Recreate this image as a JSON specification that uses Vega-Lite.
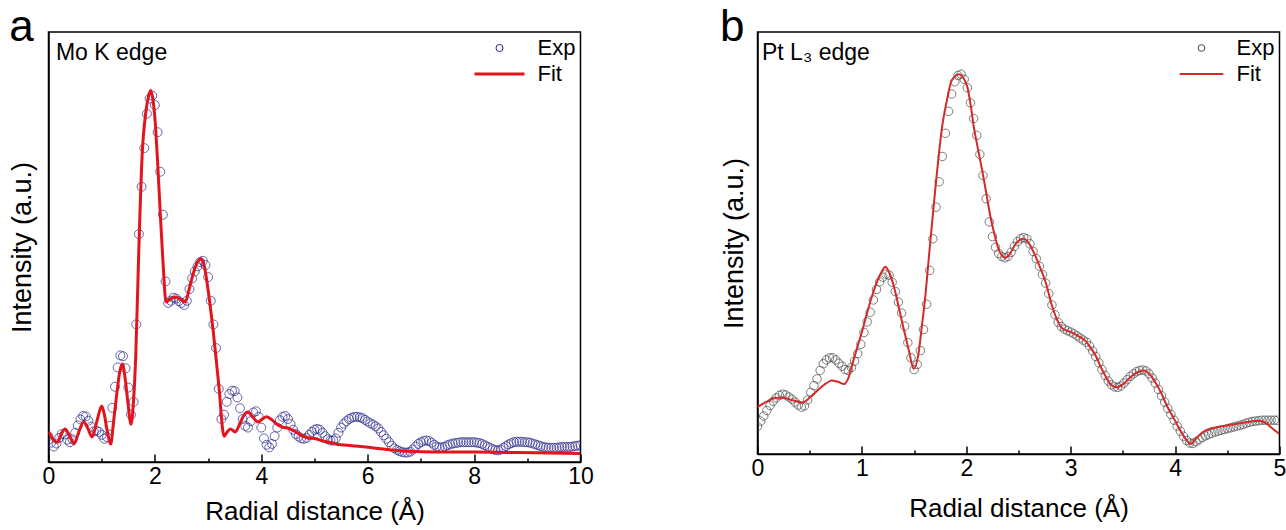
{
  "$schema": "https://vega.github.io/schema/vega-lite/v6.json",
  "padding": {"left": 7.5, "top": 5, "right": 0, "bottom": 0},
  "background": "white",
  "spacing": 124,
  "config": {
    "font": "Liberation Sans",
    "view": {"stroke": "black", "strokeWidth": 1.5},
    "axis": {"domainColor": "black", "domainWidth": 1.5, "tickColor": "black", "tickWidth": 1.5, "labelColor": "black", "titleColor": "black", "labelFont": "Liberation Sans", "titleFont": "Liberation Sans", "titleFontWeight": "normal", "grid": false, "labelFlush": false, "labelOverlap": false},
    "legend": {"labelFont": "Liberation Sans", "labelColor": "black"}
  },
  "resolve": {"scale": {"x": "independent", "y": "independent", "color": "independent"}, "legend": {"color": "independent"}},
  "hconcat": [
    {
      "width": 532,
      "height": 430,
      "encoding": {
        "x": {"field": "x", "type": "quantitative", "scale": {"domain": [0, 10], "nice": false, "zero": false},
          "axis": {"title": "Radial distance (Å)", "values": [0,1,2,3,4,5,6,7,8,9,10], "labelExpr": "datum.value % 2 === 0 ? '' + datum.value : ''",
            "tickSize": {"condition": {"test": "datum.value % 2 === 0", "value": -8}, "value": -4},
            "labelFontSize": 23, "labelPadding": 11, "titleFontSize": 26, "titlePadding": 6}},
        "y": {"field": "v", "type": "quantitative", "scale": {"domain": [0, 100], "nice": false},
          "axis": {"title": "Intensity (a.u.)", "labels": false, "ticks": false, "titleFontSize": 27, "titlePadding": 12}}
      },
      "layer": [
        {
          "data": {"values": [
{"x":0,"v":6.0},{"x":0.05,"v":4.5},{"x":0.1,"v":3.6},{"x":0.15,"v":4.3},{"x":0.2,"v":5.6},{"x":0.25,"v":6.5},{"x":0.3,"v":6.4},{"x":0.35,"v":5.2},{"x":0.4,"v":4.6},{"x":0.45,"v":5.3},
{"x":0.5,"v":6.8},{"x":0.55,"v":8.5},{"x":0.6,"v":9.9},{"x":0.65,"v":10.7},{"x":0.7,"v":10.6},{"x":0.75,"v":9.6},{"x":0.8,"v":8.2},{"x":0.85,"v":7.1},{"x":0.9,"v":7.3},{"x":0.95,"v":7.0},
{"x":1.0,"v":6.3},{"x":1.05,"v":5.4},{"x":1.1,"v":5.8},{"x":1.15,"v":8.4},{"x":1.2,"v":12.6},{"x":1.25,"v":17.5},{"x":1.3,"v":22.0},{"x":1.35,"v":24.8},{"x":1.4,"v":24.6},{"x":1.45,"v":21.8},
{"x":1.5,"v":17.3},{"x":1.55,"v":11.0},{"x":1.6,"v":14.0},{"x":1.65,"v":32.0},{"x":1.7,"v":53.0},{"x":1.75,"v":64.0},{"x":1.8,"v":73.0},{"x":1.85,"v":81.0},{"x":1.9,"v":84.5},{"x":1.95,"v":85.2},
{"x":2.0,"v":83.0},{"x":2.05,"v":76.7},{"x":2.1,"v":67.5},{"x":2.15,"v":57.5},{"x":2.2,"v":42.0},{"x":2.25,"v":37.0},{"x":2.3,"v":37.5},{"x":2.35,"v":38.2},{"x":2.4,"v":38.0},{"x":2.45,"v":37.4},
{"x":2.5,"v":37.0},{"x":2.55,"v":36.5},{"x":2.6,"v":37.5},{"x":2.65,"v":40.2},{"x":2.7,"v":42.7},{"x":2.75,"v":44.3},{"x":2.8,"v":45.5},{"x":2.85,"v":46.5},{"x":2.9,"v":46.8},{"x":2.95,"v":45.8},
{"x":3.0,"v":43.0},{"x":3.05,"v":37.5},{"x":3.1,"v":32.0},{"x":3.15,"v":26.5},{"x":3.2,"v":17.0},{"x":3.25,"v":10.0},{"x":3.3,"v":11.0},{"x":3.35,"v":14.0},{"x":3.4,"v":15.8},{"x":3.45,"v":16.6},
{"x":3.5,"v":16.5},{"x":3.55,"v":15.0},{"x":3.6,"v":12.5},{"x":3.65,"v":10.0},{"x":3.7,"v":8.4},{"x":3.75,"v":8.0},{"x":3.8,"v":9.5},{"x":3.85,"v":11.5},{"x":3.9,"v":11.8},{"x":3.95,"v":10.5},
{"x":4.0,"v":8.0},{"x":4.05,"v":5.5},{"x":4.1,"v":4.0},{"x":4.15,"v":3.4},{"x":4.2,"v":4.2},{"x":4.25,"v":6.0},{"x":4.3,"v":8.0},{"x":4.35,"v":9.7},{"x":4.4,"v":10.5},{"x":4.45,"v":10.7},
{"x":4.5,"v":10.0},{"x":4.55,"v":8.8},{"x":4.6,"v":7.5},{"x":4.65,"v":6.5},{"x":4.7,"v":5.9},{"x":4.75,"v":5.5},{"x":4.8,"v":5.4},{"x":4.85,"v":5.6},{"x":4.9,"v":6.3},{"x":4.95,"v":7.0},
{"x":5.0,"v":7.5},{"x":5.05,"v":7.7},{"x":5.1,"v":7.5},{"x":5.15,"v":6.8},{"x":5.2,"v":6.0},{"x":5.25,"v":5.3},{"x":5.3,"v":5.0},{"x":5.35,"v":5.0},{"x":5.4,"v":5.5},{"x":5.45,"v":6.8},
{"x":5.5,"v":8.0},{"x":5.55,"v":8.9},{"x":5.6,"v":9.5},{"x":5.65,"v":10.0},{"x":5.7,"v":10.3},{"x":5.75,"v":10.5},{"x":5.8,"v":10.5},{"x":5.85,"v":10.4},{"x":5.9,"v":10.2},{"x":5.95,"v":9.8},
{"x":6.0,"v":9.4},{"x":6.05,"v":9.0},{"x":6.1,"v":8.7},{"x":6.15,"v":8.3},{"x":6.2,"v":7.8},{"x":6.25,"v":7.0},{"x":6.3,"v":6.2},{"x":6.35,"v":5.4},{"x":6.4,"v":4.6},{"x":6.45,"v":3.8},
{"x":6.5,"v":3.2},{"x":6.55,"v":2.8},{"x":6.6,"v":2.5},{"x":6.65,"v":2.3},{"x":6.7,"v":2.2},{"x":6.75,"v":2.2},{"x":6.8,"v":2.4},{"x":6.85,"v":2.9},{"x":6.9,"v":3.6},{"x":6.95,"v":4.2},
{"x":7.0,"v":4.6},{"x":7.05,"v":4.9},{"x":7.1,"v":5.0},{"x":7.15,"v":4.9},{"x":7.2,"v":4.5},{"x":7.25,"v":4.0},{"x":7.3,"v":3.6},{"x":7.35,"v":3.4},{"x":7.4,"v":3.4},{"x":7.45,"v":3.6},
{"x":7.5,"v":3.9},{"x":7.55,"v":4.1},{"x":7.6,"v":4.3},{"x":7.65,"v":4.4},{"x":7.7,"v":4.5},{"x":7.75,"v":4.6},{"x":7.8,"v":4.6},{"x":7.85,"v":4.6},{"x":7.9,"v":4.6},{"x":7.95,"v":4.6},
{"x":8.0,"v":4.6},{"x":8.05,"v":4.5},{"x":8.1,"v":4.4},{"x":8.15,"v":4.2},{"x":8.2,"v":3.9},{"x":8.25,"v":3.6},{"x":8.3,"v":3.3},{"x":8.35,"v":3.0},{"x":8.4,"v":2.8},{"x":8.45,"v":2.7},
{"x":8.5,"v":2.9},{"x":8.55,"v":3.3},{"x":8.6,"v":3.7},{"x":8.65,"v":4.1},{"x":8.7,"v":4.4},{"x":8.75,"v":4.6},{"x":8.8,"v":4.7},{"x":8.85,"v":4.7},{"x":8.9,"v":4.7},{"x":8.95,"v":4.6},
{"x":9.0,"v":4.6},{"x":9.05,"v":4.5},{"x":9.1,"v":4.3},{"x":9.15,"v":4.1},{"x":9.2,"v":3.9},{"x":9.25,"v":3.7},{"x":9.3,"v":3.5},{"x":9.35,"v":3.4},{"x":9.4,"v":3.3},{"x":9.45,"v":3.3},
{"x":9.5,"v":3.3},{"x":9.55,"v":3.3},{"x":9.6,"v":3.4},{"x":9.65,"v":3.5},{"x":9.7,"v":3.5},{"x":9.75,"v":3.5},{"x":9.8,"v":3.5},{"x":9.85,"v":3.6},{"x":9.9,"v":3.7},{"x":9.95,"v":3.8},{"x":10.0,"v":3.9}
          ]},
          "mark": {"type": "point", "shape": "circle", "filled": false, "size": 80, "strokeWidth": 1, "clip": true},
          "encoding": {"color": {"datum": "Exp", "type": "nominal", "scale": {"domain": ["Exp", "Fit"], "range": ["#26268a", "#e3141c"]},
            "legend": {"orient": "top-right", "title": null, "offset": 5, "padding": 0, "labelFontSize": 22, "labelOffset": 27, "rowPadding": 4, "symbolSize": 2500, "symbolStrokeWidth": 3,
              "encode": {"symbols": {"update": {
                "shape": {"signal": "datum.value === 'Fit' ? 'stroke' : 'circle'"},
                "size": {"signal": "datum.value === 'Fit' ? 2500 : 50"},
                "strokeWidth": {"signal": "datum.value === 'Fit' ? 3 : 1"},
                "fill": {"value": "transparent"}}}}}}}
        },
        {
          "data": {"values": [
{"x":0,"v":7.0},{"x":0.05,"v":6.0},{"x":0.1,"v":5.0},{"x":0.17,"v":4.6},{"x":0.24,"v":6.5},{"x":0.31,"v":7.7},{"x":0.4,"v":6.0},{"x":0.48,"v":4.2},{"x":0.57,"v":7.0},{"x":0.66,"v":9.3},
{"x":0.74,"v":7.8},{"x":0.82,"v":5.8},{"x":0.91,"v":9.5},{"x":1.0,"v":13.0},{"x":1.05,"v":11.0},{"x":1.1,"v":7.5},{"x":1.17,"v":4.2},{"x":1.22,"v":9.0},{"x":1.28,"v":15.5},{"x":1.34,"v":21.0},
{"x":1.39,"v":22.8},{"x":1.44,"v":19.5},{"x":1.5,"v":13.0},{"x":1.55,"v":8.8},{"x":1.6,"v":14.5},{"x":1.64,"v":24.7},{"x":1.7,"v":50.4},{"x":1.76,"v":71.3},{"x":1.83,"v":81.4},{"x":1.88,"v":85.0},
{"x":1.92,"v":86.4},{"x":1.96,"v":84.5},{"x":2.0,"v":80.0},{"x":2.05,"v":70.0},{"x":2.1,"v":58.0},{"x":2.15,"v":47.0},{"x":2.21,"v":37.2},{"x":2.3,"v":38.0},{"x":2.39,"v":38.4},{"x":2.48,"v":37.8},
{"x":2.57,"v":37.2},{"x":2.65,"v":40.5},{"x":2.72,"v":43.8},{"x":2.8,"v":46.5},{"x":2.87,"v":47.2},{"x":2.93,"v":45.5},{"x":3.0,"v":40.0},{"x":3.1,"v":30.0},{"x":3.2,"v":18.0},{"x":3.3,"v":6.0},
{"x":3.36,"v":7.0},{"x":3.42,"v":7.7},{"x":3.51,"v":7.0},{"x":3.6,"v":9.0},{"x":3.67,"v":10.8},{"x":3.75,"v":11.6},{"x":3.85,"v":10.3},{"x":3.94,"v":9.3},{"x":4.02,"v":10.0},{"x":4.1,"v":10.5},
{"x":4.2,"v":9.8},{"x":4.3,"v":8.7},{"x":4.4,"v":8.1},{"x":4.52,"v":7.8},{"x":4.65,"v":7.0},{"x":4.78,"v":6.0},{"x":4.9,"v":5.6},{"x":5.03,"v":5.4},{"x":5.15,"v":4.9},{"x":5.28,"v":4.6},
{"x":5.4,"v":4.2},{"x":5.7,"v":3.8},{"x":5.97,"v":3.5},{"x":6.3,"v":3.0},{"x":6.6,"v":2.6},{"x":7.0,"v":2.4},{"x":7.5,"v":2.3},{"x":8.0,"v":2.3},{"x":8.8,"v":2.2},{"x":9.4,"v":2.1},{"x":10.0,"v":2.0}
          ]},
          "mark": {"type": "line", "strokeWidth": 3, "interpolate": "monotone", "clip": true},
          "encoding": {"color": {"datum": "Fit", "type": "nominal",
            "legend": {"orient": "top-right", "title": null, "offset": 5, "padding": 0, "labelFontSize": 22, "labelOffset": 27, "rowPadding": 4, "symbolSize": 2500, "symbolStrokeWidth": 3,
              "encode": {"symbols": {"update": {
                "shape": {"signal": "datum.value === 'Fit' ? 'stroke' : 'circle'"},
                "size": {"signal": "datum.value === 'Fit' ? 2500 : 50"},
                "strokeWidth": {"signal": "datum.value === 'Fit' ? 3 : 1"},
                "fill": {"value": "transparent"}}}}}}}
        },
        {
          "data": {"values": [{"label": "Mo K edge", "x": 0.14, "v": 93.5}, {"label": "a", "x": -0.74, "v": 97.9, "big": true}]},
          "mark": {"type": "text", "align": "left", "baseline": "alphabetic", "color": "black"},
          "encoding": {"x": {"field": "x", "type": "quantitative"}, "y": {"field": "v", "type": "quantitative"}, "text": {"field": "label"},
            "size": {"condition": {"test": "datum.big", "value": 44}, "value": 23}}
        }
      ]
    },
    {
      "width": 522,
      "height": 422,
      "encoding": {
        "x": {"field": "x", "type": "quantitative", "scale": {"domain": [0, 5], "nice": false, "zero": false},
          "axis": {"title": "Radial distance (Å)", "values": [0,0.5,1,1.5,2,2.5,3,3.5,4,4.5,5], "labelExpr": "datum.value % 1 === 0 ? '' + datum.value : ''",
            "tickSize": {"condition": {"test": "datum.value % 1 === 0", "value": -8}, "value": -4},
            "labelFontSize": 23, "labelPadding": 11, "titleFontSize": 26, "titlePadding": 11}},
        "y": {"field": "v", "type": "quantitative", "scale": {"domain": [0, 100], "nice": false},
          "axis": {"title": "Intensity (a.u.)", "labels": false, "ticks": false, "titleFontSize": 27, "titlePadding": 9}}
      },
      "layer": [
        {
          "data": {"values": [
{"x":0,"v":6.5},{"x":0.03,"v":7.8},{"x":0.06,"v":9.0},{"x":0.09,"v":10.3},{"x":0.12,"v":11.5},{"x":0.15,"v":12.5},{"x":0.18,"v":13.3},{"x":0.21,"v":13.9},{"x":0.24,"v":14.2},{"x":0.27,"v":14.0},
{"x":0.3,"v":13.5},{"x":0.33,"v":13.0},{"x":0.36,"v":12.3},{"x":0.39,"v":11.6},{"x":0.42,"v":11.1},{"x":0.45,"v":11.4},{"x":0.48,"v":12.8},{"x":0.51,"v":14.6},{"x":0.54,"v":16.2},{"x":0.57,"v":17.8},
{"x":0.6,"v":19.8},{"x":0.63,"v":21.4},{"x":0.66,"v":22.3},{"x":0.69,"v":22.8},{"x":0.72,"v":22.8},{"x":0.75,"v":22.3},{"x":0.78,"v":21.5},{"x":0.81,"v":20.8},{"x":0.84,"v":20.0},{"x":0.87,"v":19.8},
{"x":0.9,"v":20.5},{"x":0.93,"v":22.0},{"x":0.96,"v":23.8},{"x":0.99,"v":26.0},{"x":1.02,"v":28.8},{"x":1.05,"v":31.3},{"x":1.08,"v":33.6},{"x":1.11,"v":36.5},{"x":1.14,"v":39.0},{"x":1.17,"v":40.8},
{"x":1.2,"v":41.9},{"x":1.23,"v":42.6},{"x":1.26,"v":42.4},{"x":1.29,"v":40.7},{"x":1.32,"v":38.5},{"x":1.35,"v":36.0},{"x":1.38,"v":33.4},{"x":1.41,"v":30.3},{"x":1.44,"v":26.4},{"x":1.47,"v":22.8},
{"x":1.5,"v":20.0},{"x":1.53,"v":21.2},{"x":1.56,"v":24.5},{"x":1.59,"v":29.5},{"x":1.62,"v":35.5},{"x":1.65,"v":43.5},{"x":1.68,"v":51.0},{"x":1.71,"v":58.5},{"x":1.74,"v":64.5},{"x":1.77,"v":70.5},
{"x":1.8,"v":76.0},{"x":1.83,"v":81.2},{"x":1.86,"v":85.3},{"x":1.89,"v":88.2},{"x":1.92,"v":89.7},{"x":1.95,"v":90.0},{"x":1.98,"v":88.8},{"x":2.01,"v":86.8},{"x":2.04,"v":83.2},{"x":2.07,"v":79.5},
{"x":2.1,"v":75.5},{"x":2.13,"v":71.0},{"x":2.16,"v":66.0},{"x":2.19,"v":60.5},{"x":2.22,"v":55.0},{"x":2.25,"v":51.5},{"x":2.28,"v":49.0},{"x":2.31,"v":47.5},{"x":2.34,"v":46.8},{"x":2.37,"v":46.5},
{"x":2.4,"v":46.8},{"x":2.43,"v":47.8},{"x":2.46,"v":49.2},{"x":2.49,"v":50.3},{"x":2.52,"v":51.0},{"x":2.55,"v":51.3},{"x":2.58,"v":51.0},{"x":2.61,"v":49.8},{"x":2.64,"v":48.0},{"x":2.67,"v":46.3},
{"x":2.7,"v":44.5},{"x":2.73,"v":42.5},{"x":2.76,"v":40.5},{"x":2.79,"v":38.0},{"x":2.82,"v":35.3},{"x":2.85,"v":33.0},{"x":2.88,"v":31.2},{"x":2.91,"v":30.2},{"x":2.94,"v":29.6},{"x":2.97,"v":29.2},
{"x":3.0,"v":28.9},{"x":3.03,"v":28.5},{"x":3.06,"v":28.0},{"x":3.09,"v":27.5},{"x":3.12,"v":27.0},{"x":3.15,"v":26.5},{"x":3.18,"v":25.6},{"x":3.21,"v":24.4},{"x":3.24,"v":23.1},{"x":3.27,"v":21.6},
{"x":3.3,"v":20.0},{"x":3.33,"v":18.6},{"x":3.36,"v":17.3},{"x":3.39,"v":16.4},{"x":3.42,"v":15.9},{"x":3.45,"v":15.8},{"x":3.48,"v":16.1},{"x":3.51,"v":16.8},{"x":3.54,"v":17.6},{"x":3.57,"v":18.4},
{"x":3.6,"v":19.0},{"x":3.63,"v":19.5},{"x":3.66,"v":19.8},{"x":3.69,"v":19.9},{"x":3.72,"v":19.7},{"x":3.75,"v":19.0},{"x":3.78,"v":18.0},{"x":3.81,"v":16.8},{"x":3.84,"v":15.3},{"x":3.87,"v":13.8},
{"x":3.9,"v":12.3},{"x":3.93,"v":10.8},{"x":3.96,"v":9.4},{"x":3.99,"v":8.0},{"x":4.02,"v":6.6},{"x":4.05,"v":5.4},{"x":4.08,"v":4.2},{"x":4.11,"v":3.2},{"x":4.14,"v":2.6},{"x":4.17,"v":2.5},
{"x":4.2,"v":2.9},{"x":4.23,"v":3.4},{"x":4.26,"v":3.9},{"x":4.29,"v":4.3},{"x":4.32,"v":4.6},{"x":4.35,"v":4.9},{"x":4.38,"v":5.2},{"x":4.41,"v":5.4},{"x":4.44,"v":5.6},{"x":4.47,"v":5.8},
{"x":4.5,"v":6.0},{"x":4.53,"v":6.2},{"x":4.56,"v":6.4},{"x":4.59,"v":6.6},{"x":4.62,"v":6.8},{"x":4.65,"v":7.0},{"x":4.68,"v":7.3},{"x":4.71,"v":7.5},{"x":4.74,"v":7.7},{"x":4.77,"v":7.8},
{"x":4.8,"v":7.9},{"x":4.83,"v":8.0},{"x":4.86,"v":8.0},{"x":4.89,"v":8.0},{"x":4.92,"v":8.0},{"x":4.95,"v":8.0},{"x":4.98,"v":8.0}
          ]},
          "mark": {"type": "point", "shape": "circle", "filled": false, "size": 72, "strokeWidth": 1, "clip": true},
          "encoding": {"color": {"datum": "Exp", "type": "nominal", "scale": {"domain": ["Exp", "Fit"], "range": ["#444444", "#d42a2a"]},
            "legend": {"orient": "top-right", "title": null, "offset": 5, "padding": 0, "labelFontSize": 22, "labelOffset": 24, "rowPadding": 4, "symbolSize": 1900, "symbolStrokeWidth": 2,
              "encode": {"symbols": {"update": {
                "shape": {"signal": "datum.value === 'Fit' ? 'stroke' : 'circle'"},
                "size": {"signal": "datum.value === 'Fit' ? 1900 : 45"},
                "strokeWidth": {"signal": "datum.value === 'Fit' ? 2 : 1"},
                "fill": {"value": "transparent"}}}}}}}
        },
        {
          "data": {"values": [
{"x":0,"v":11.1},{"x":0.08,"v":12.3},{"x":0.16,"v":13.2},{"x":0.235,"v":13.4},{"x":0.33,"v":12.8},{"x":0.43,"v":12.2},{"x":0.51,"v":13.6},{"x":0.59,"v":15.4},{"x":0.65,"v":16.6},{"x":0.71,"v":17.4},
{"x":0.77,"v":17.1},{"x":0.83,"v":16.6},{"x":0.87,"v":18.0},{"x":0.905,"v":21.0},{"x":0.95,"v":24.8},{"x":1.0,"v":28.9},{"x":1.05,"v":33.5},{"x":1.11,"v":38.4},{"x":1.17,"v":42.2},{"x":1.225,"v":44.4},
{"x":1.27,"v":42.5},{"x":1.32,"v":38.4},{"x":1.36,"v":34.0},{"x":1.4,"v":29.7},{"x":1.45,"v":24.5},{"x":1.496,"v":20.2},{"x":1.54,"v":23.5},{"x":1.575,"v":30.4},{"x":1.61,"v":38.0},{"x":1.64,"v":46.2},
{"x":1.7,"v":62.0},{"x":1.77,"v":77.8},{"x":1.82,"v":84.5},{"x":1.86,"v":88.5},{"x":1.93,"v":90.0},{"x":2.006,"v":87.3},{"x":2.04,"v":83.0},{"x":2.07,"v":77.8},{"x":2.11,"v":72.5},{"x":2.15,"v":67.5},
{"x":2.19,"v":62.0},{"x":2.23,"v":56.4},{"x":2.27,"v":52.0},{"x":2.31,"v":48.5},{"x":2.375,"v":46.5},{"x":2.42,"v":47.5},{"x":2.47,"v":49.7},{"x":2.55,"v":51.0},{"x":2.61,"v":49.5},{"x":2.66,"v":47.0},
{"x":2.71,"v":44.0},{"x":2.76,"v":40.7},{"x":2.82,"v":35.2},{"x":2.87,"v":31.8},{"x":2.92,"v":29.8},{"x":3.01,"v":28.8},{"x":3.08,"v":27.8},{"x":3.14,"v":26.8},{"x":3.19,"v":25.2},{"x":3.24,"v":23.3},
{"x":3.29,"v":20.5},{"x":3.33,"v":18.6},{"x":3.38,"v":16.6},{"x":3.44,"v":15.8},{"x":3.51,"v":16.7},{"x":3.59,"v":18.6},{"x":3.65,"v":19.5},{"x":3.7,"v":19.8},{"x":3.76,"v":18.8},{"x":3.81,"v":17.0},
{"x":3.87,"v":14.3},{"x":3.92,"v":11.5},{"x":3.98,"v":8.8},{"x":4.04,"v":6.0},{"x":4.1,"v":3.6},{"x":4.15,"v":2.4},{"x":4.2,"v":3.6},{"x":4.26,"v":5.1},{"x":4.32,"v":5.9},{"x":4.39,"v":6.3},
{"x":4.48,"v":6.7},{"x":4.58,"v":7.1},{"x":4.7,"v":7.6},{"x":4.8,"v":7.9},{"x":4.86,"v":7.5},{"x":4.9,"v":6.7},{"x":4.95,"v":5.7},{"x":5.0,"v":4.7}
          ]},
          "mark": {"type": "line", "strokeWidth": 2, "interpolate": "monotone", "clip": true},
          "encoding": {"color": {"datum": "Fit", "type": "nominal",
            "legend": {"orient": "top-right", "title": null, "offset": 5, "padding": 0, "labelFontSize": 22, "labelOffset": 24, "rowPadding": 4, "symbolSize": 1900, "symbolStrokeWidth": 2,
              "encode": {"symbols": {"update": {
                "shape": {"signal": "datum.value === 'Fit' ? 'stroke' : 'circle'"},
                "size": {"signal": "datum.value === 'Fit' ? 1900 : 45"},
                "strokeWidth": {"signal": "datum.value === 'Fit' ? 2 : 1"},
                "fill": {"value": "transparent"}}}}}}}
        },
        {
          "data": {"values": [{"label": "Pt L₃ edge", "x": 0.043, "v": 93.4}, {"label": "b", "x": -0.36, "v": 97.9, "big": true}]},
          "mark": {"type": "text", "align": "left", "baseline": "alphabetic", "color": "black"},
          "encoding": {"x": {"field": "x", "type": "quantitative"}, "y": {"field": "v", "type": "quantitative"}, "text": {"field": "label"},
            "size": {"condition": {"test": "datum.big", "value": 44}, "value": 23}}
        }
      ]
    }
  ]
}
